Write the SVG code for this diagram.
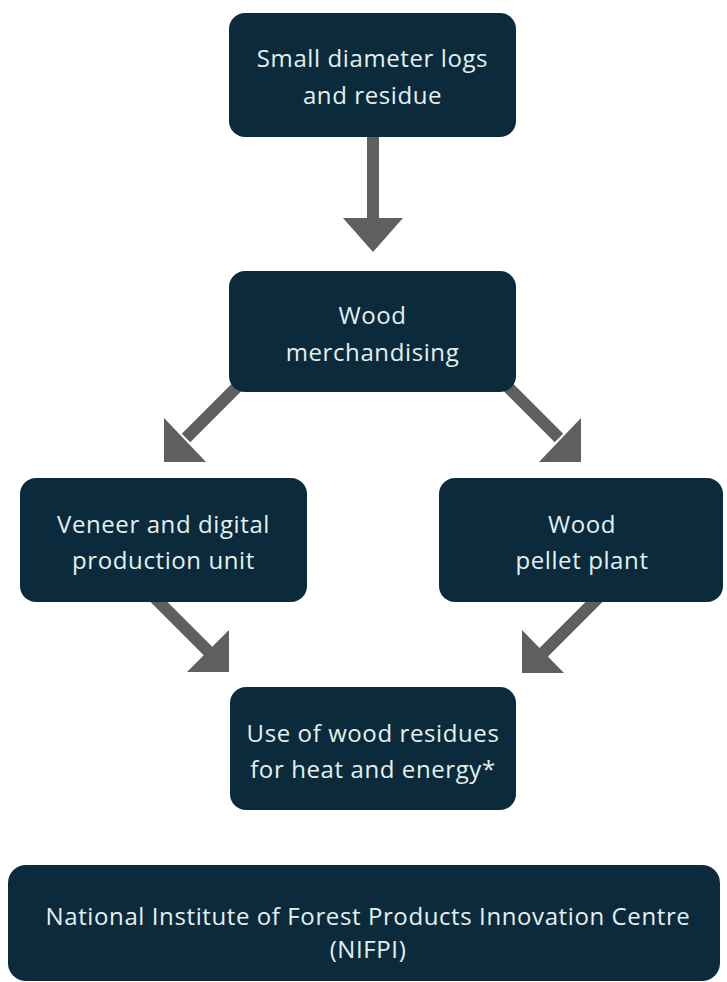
<svg xmlns="http://www.w3.org/2000/svg" width="727" height="982" viewBox="0 0 727 982">
<style>
.box{fill:#0b2b3c;}
.lbl{font-family:"Open Sans","Noto Sans","Liberation Sans",sans-serif;font-size:24px;letter-spacing:0.6px;fill:#e4f0f0;text-anchor:middle;}
.shaft{stroke:#5f5f5f;stroke-width:12;fill:none;}
.head{fill:#5f5f5f;}
</style>
<rect width="727" height="982" fill="#ffffff"/>
<g id="connectors">
<line class="shaft" x1="373" y1="136" x2="373" y2="220"/>
<polygon class="head" points="343,218 403,218 373,252"/>
<line class="shaft" x1="238" y1="386" x2="186" y2="438"/>
<polygon class="head" points="164,418 164,462 206,462"/>
<line class="shaft" x1="507" y1="386" x2="559" y2="438"/>
<polygon class="head" points="581,418 581,462 539,462"/>
<line class="shaft" x1="155" y1="598" x2="210" y2="653"/>
<polygon class="head" points="229,630 229,672 187,672"/>
<line class="shaft" x1="598" y1="598" x2="542" y2="654"/>
<polygon class="head" points="522,630 522,673 564,673"/>
</g>
<g id="node-logs">
<rect class="box" x="229" y="13" width="287" height="124" rx="16"/>
<text class="lbl" x="372.5" y="67">Small diameter logs</text>
<text class="lbl" x="372.5" y="104">and residue</text>
</g>
<g id="node-merch">
<rect class="box" x="229" y="271" width="287" height="121" rx="16"/>
<text class="lbl" x="372.5" y="324">Wood</text>
<text class="lbl" x="372.5" y="361">merchandising</text>
</g>
<g id="node-veneer">
<rect class="box" x="20" y="478" width="287" height="124" rx="16"/>
<text class="lbl" x="163.5" y="533">Veneer and digital</text>
<text class="lbl" x="163.5" y="569">production unit</text>
</g>
<g id="node-pellet">
<rect class="box" x="439" y="478" width="284" height="124" rx="16"/>
<text class="lbl" x="582" y="533">Wood</text>
<text class="lbl" x="582" y="569">pellet plant</text>
</g>
<g id="node-residues">
<rect class="box" x="230" y="687" width="286" height="123" rx="16"/>
<text class="lbl" x="373" y="742">Use of wood residues</text>
<text class="lbl" x="373" y="778">for heat and energy*</text>
</g>
<g id="node-nifpi">
<rect class="box" x="8" y="865" width="712" height="116" rx="18"/>
<text class="lbl" x="368" y="925">National Institute of Forest Products Innovation Centre</text>
<text class="lbl" x="368" y="958">(NIFPI)</text>
</g>
</svg>
